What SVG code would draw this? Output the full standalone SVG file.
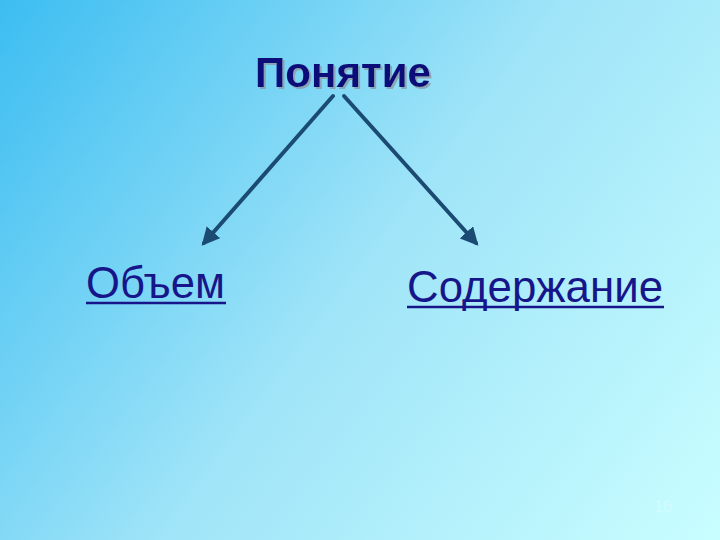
<svg xmlns="http://www.w3.org/2000/svg" width="720" height="540" viewBox="0 0 720 540">
<defs>
<linearGradient id="bg" x1="0" y1="0" x2="720" y2="540" gradientUnits="userSpaceOnUse">
<stop offset="0" stop-color="#3cbdf1"/>
<stop offset="0.5" stop-color="#9fe4f8"/>
<stop offset="1" stop-color="#c9feff"/>
</linearGradient>
<marker id="ah" viewBox="0 0 10 10" refX="8" refY="5" markerWidth="4.5" markerHeight="4.5" orient="auto" markerUnits="strokeWidth">
<path d="M0,0 L10,5 L0,10 Z" fill="#1b4b73"/>
</marker>
<filter id="sh" x="-10%" y="-10%" width="120%" height="130%">
<feOffset dx="2" dy="2" in="SourceAlpha" result="o"/>
<feFlood flood-color="#8a9aa8" flood-opacity="0.8"/>
<feComposite in2="o" operator="in" result="s"/>
<feMerge><feMergeNode in="s"/><feMergeNode in="SourceGraphic"/></feMerge>
</filter>
</defs>
<style>
.lbl{font-family:"Liberation Sans",Arial,sans-serif;font-size:44px;fill:#16168a}
.ttl{font-family:"Liberation Sans",Arial,sans-serif;font-size:42px;font-weight:bold;fill:#10107a}
.ul{stroke:#16168a;stroke-width:2.5}
.conn{stroke:#1b4b73;stroke-width:4;fill:none;stroke-linecap:round}
</style>
<rect width="720" height="540" fill="url(#bg)"/>
<g id="connectors">
<line class="conn" x1="333" y1="96" x2="204" y2="243" marker-end="url(#ah)"/>
<line class="conn" x1="344" y1="96" x2="476" y2="243" marker-end="url(#ah)"/>
</g>
<g id="node-ponyatie">
<text class="ttl" x="255" y="87" textLength="176" lengthAdjust="spacingAndGlyphs" filter="url(#sh)">Понятие</text>
</g>
<g id="node-obem">
<text class="lbl" x="86" y="298" textLength="139" lengthAdjust="spacingAndGlyphs">Объем</text>
<line class="ul" x1="86" y1="303" x2="226" y2="303"/>
</g>
<g id="node-soderzhanie">
<text class="lbl" x="407" y="302" textLength="256" lengthAdjust="spacingAndGlyphs">Содержание</text>
<line class="ul" x1="407" y1="307" x2="664" y2="307"/>
</g>
<g id="page-number">
<text x="654" y="512" font-family="Liberation Sans,Arial,sans-serif" font-size="16" fill="#d2fcff">16</text>
</g>
</svg>
